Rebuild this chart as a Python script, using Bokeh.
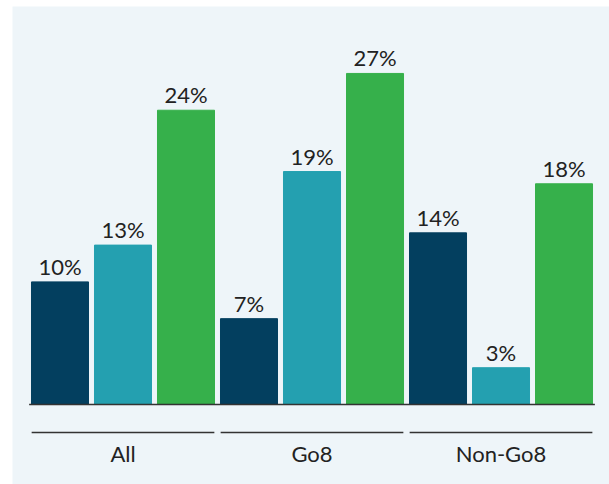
from bokeh.plotting import figure
from bokeh.models import ColumnDataSource, LabelSet, Range1d
from bokeh.core.properties import value
from bokeh.embed import file_html
from bokeh.resources import INLINE

groups = ["All", "Go8", "Non-Go8"]
series_colors = ["#033f5f", "#24a0b0", "#36b04b"]
values = {
    "All": [10, 13, 24],
    "Go8": [7, 19, 27],
    "Non-Go8": [14, 3, 18],
}

xs, tops, cols, labels = [], [], [], []
for g, name in enumerate(groups):
    for s, v in enumerate(values[name]):
        xs.append(g * 3 + s)
        tops.append(v)
        cols.append(series_colors[s])
        labels.append(f"{v}%")

src = ColumnDataSource(dict(x=xs, top=tops, color=cols, label=labels))

p = figure(width=609, height=484, output_backend="svg", toolbar_location=None,
           x_range=Range1d(-0.754, 8.722), y_range=Range1d(-6.525, 32.46),
           min_border_left=12, min_border_top=6, min_border_right=0, min_border_bottom=0)
p.background_fill_color = "#eef5f9"
p.border_fill_color = "#ffffff"
p.outline_line_color = None
p.axis.visible = False
p.grid.visible = False

p.vbar(x="x", top="top", bottom=0, width=0.905, color="color", source=src)

# baseline
p.segment(x0=[-0.49], y0=[0], x1=[len(xs) - 1 + 0.49], y1=[0], line_color="#333333", line_width=1.5)

# value labels
p.add_layout(LabelSet(x="x", y="top", text="label", source=src, y_offset=7,
                      text_align="center", text_baseline="alphabetic",
                      text_font=value("Lato"), text_font_size="22px", text_color="#222222"))

# group lines and labels
gx = [g * 3 + 1 for g in range(len(groups))]
p.segment(x0=[c - 1.45 for c in gx], y0=[-2.28] * 3, x1=[c + 1.45 for c in gx], y1=[-2.28] * 3,
          line_color="#333333", line_width=1.5)
gsrc = ColumnDataSource(dict(x=gx, y=[-4.65] * 3, t=groups))
p.add_layout(LabelSet(x="x", y="y", text="t", source=gsrc, text_align="center",
                      text_baseline="alphabetic", text_font=value("Lato"),
                      text_font_size="22px", text_color="#222222"))

open("out.html", "w").write(file_html(p, INLINE))
